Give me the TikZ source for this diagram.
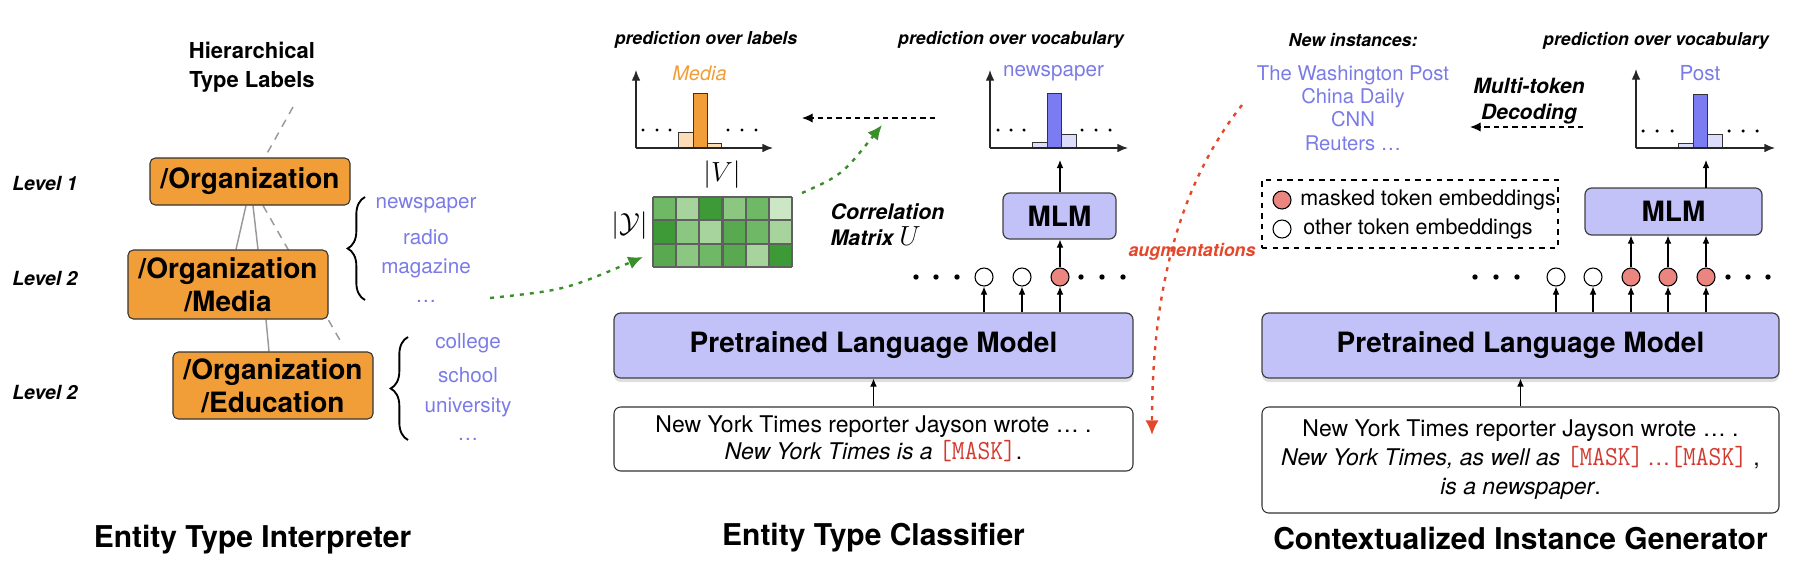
\documentclass[tikz,border=0pt]{standalone}
\usepackage{fontspec}
\setmainfont{TeX Gyre Heros}
\usetikzlibrary{arrows.meta,decorations.pathreplacing,shadows,calc}
\pgfdeclarelayer{bg}
\pgfsetlayers{bg,main}

\definecolor{orgorange}{HTML}{F19E38}
\definecolor{lightorange}{HTML}{FCDDB5}
\definecolor{lmblue}{HTML}{C2C2F8}
\definecolor{wordblue}{HTML}{7B7BE8}
\definecolor{barblue}{HTML}{7C7CF2}
\definecolor{lightblue}{HTML}{DCDCFB}
\definecolor{tokred}{HTML}{EA8580}
\definecolor{augred}{HTML}{E5472B}
\definecolor{maskred}{HTML}{D23A30}
\definecolor{dgreen}{HTML}{3B8F2B}
\definecolor{ga}{HTML}{3E9A36}
\definecolor{gb}{HTML}{58A94F}
\definecolor{gc}{HTML}{6FB866}
\definecolor{gd}{HTML}{8CC782}
\definecolor{ge}{HTML}{A6D49C}
\definecolor{gf}{HTML}{CBE7C3}

\newcommand{\fs}[2]{\fontsize{#1}{#2}\selectfont}
\newcommand{\maskt}{{\color{maskred}\scalebox{1.08}[1.2]{\ttfamily[MASK]}}}

\begin{document}
\begin{tikzpicture}[x=0.75pt,y=-0.75pt,
  orgbox/.style={draw=black!80, fill=orgorange, rounded corners=4pt, line width=0.8pt,
    font=\fs{21}{24.75}\bfseries, align=center, inner sep=0pt},
  lvl/.style={font=\fs{14.6}{17}\bfseries\itshape, anchor=west, inner sep=0pt},
  word/.style={font=\fs{15.5}{18}, text=wordblue, inner sep=0pt},
  ttl/.style={font=\fs{22.5}{26}\bfseries},
  plabel/.style={font=\fs{13.3}{16}\bfseries\itshape},
  lmbox/.style={draw=black!75, fill=lmblue, rounded corners=5pt, line width=0.9pt,
    font=\fs{21}{24}\bfseries},
  shbox/.style={lmbox, drop shadow={opacity=0.25, shadow xshift=0pt, shadow yshift=-3pt}},
  sentbox/.style={draw=black!80, fill=white, rounded corners=5pt, line width=0.8pt,
    align=center, inner sep=0pt},
  tok/.style={circle, draw=black, line width=0.8pt, minimum size=13.5pt, inner sep=0pt, fill=white},
  mtok/.style={tok, fill=tokred},
  arr/.style={-{Latex[length=6pt,width=5pt]}, line width=0.8pt},
  axarr/.style={-{Latex[length=8pt,width=6.5pt]}, line width=1pt, draw=black!85},
  bar/.style={draw=black!80, line width=0.6pt},
  conn/.style={draw=gray!80, line width=1.1pt},
  dconn/.style={conn, dash pattern=on 6pt off 5pt},
  gdot/.style={dgreen, line width=1.8pt, dash pattern=on 3pt off 4.5pt,
    -{Latex[length=11pt,width=10pt]}},
  rdot/.style={augred, line width=1.8pt, dash pattern=on 3pt off 4.5pt,
    -{Latex[length=11pt,width=10pt]}},
  blkdash/.style={line width=0.9pt, dash pattern=on 4pt off 3pt, -{Latex[length=8pt,width=7pt]}},
  brc/.style={decorate, decoration={brace, amplitude=13pt}, line width=1.4pt}
]
\useasboundingbox (0,0) rectangle (1812,586);

% ================= Left panel =================
\node[font=\fs{16.5}{21.75}\bfseries, align=center] (hier) at (252,67.5) {Hierarchical\\Type Labels};
\node[orgbox, minimum width=150pt, minimum height=35.25pt] (org1) at (250,181.5) {/Organization};
\node[orgbox, minimum width=150pt, minimum height=51.75pt] (org2) at (228,284.5) {/Organization\\/Media};
\node[orgbox, minimum width=150pt, minimum height=50.25pt] (org3) at (273,385.5) {/Organization\\/Education};

\node[lvl] (lv1) at (12,183) {Level 1};
\node[lvl] (lv2) at (12,278) {Level 2};
\node[lvl] (lv3) at (12,392) {Level 2};

\coordinate (htop) at (293,107);
\coordinate (dend) at (341,342);
\begin{pgfonlayer}{bg}
  \draw[dconn] (htop) -- ($(org1.north)+(17,-4)$);
  \draw[conn] ($(org1.south)+(-4,0)$) -- ($(org2.north)+(8,0)$);
  \draw[conn] ($(org1.south)+(3,0)$) -- ($(org2.north)+(30,0)$);
  \draw[dconn] ($(org1.south)+(13,0)$) -- (dend);
  \draw[conn] ($(org2.south)+(38,0)$) -- ($(org3.north)+(-4,0)$);
\end{pgfonlayer}

\coordinate (b1a) at (365,300);
\coordinate (b1b) at (365,197);
\coordinate (b2a) at (408,440);
\coordinate (b2b) at (408,337);
\draw[brc] (b1a) -- (b1b);
\draw[brc] (b2a) -- (b2b);

\node[word] (w1) at (426,205) {newspaper};
\node[word] (w2) at (426,237) {radio};
\node[word] (w3) at (426,268) {magazine};
\node[word] (w4) at (426,301) {\ldots};
\node[word] (e1) at (468,343) {college};
\node[word] (e2) at (468,375) {school};
\node[word] (e3) at (468,407) {university};
\node[word] (e4) at (468,439) {\ldots};

\node[ttl] (t1) at (252.5,540) {Entity Type Interpreter};

% ================= Center panel =================
\node[plabel] (pl1) at (706,40) {prediction over labels};
\coordinate (o1) at (636,148);
\draw[bar, fill=lightorange] (678,148) rectangle (693,132);
\draw[bar, fill=orgorange] (693,148) rectangle (707,93);
\draw[bar, fill=lightorange] (707,148) rectangle (721,143);
\draw[axarr] (o1) -- ++(0,-78);
\draw[axarr] (o1) -- ++(137,0);
\foreach \x in {643,657,670,728,742,756} \fill (\x,130) circle (1.3pt);
\node[font=\fs{15}{18}\itshape, text=orgorange] (media) at (699.5,73) {Media};
\node[font=\fs{20}{22}] (vv) at (722,175) {$|V|$};

% correlation matrix
\foreach \c [count=\i from 0] in {gc,ge,ga,gd,gc,gf}
  \fill[\c] (653+\i*23.17,197) rectangle ++(23.17,23.33);
\foreach \c [count=\i from 0] in {ga,gd,ge,gb,gc,ge}
  \fill[\c] (653+\i*23.17,220.33) rectangle ++(23.17,23.33);
\foreach \c [count=\i from 0] in {gb,gd,gc,gb,ge,ga}
  \fill[\c] (653+\i*23.17,243.67) rectangle ++(23.17,23.33);
\foreach \i in {0,...,6} \draw[gray!75!black, line width=1.6pt] (653+\i*23.17,197) -- ++(0,70);
\foreach \j in {0,...,3} \draw[gray!75!black, line width=1.6pt] (653,197+\j*23.33) -- ++(139,0);
\node[font=\fs{20}{22}] (yy) at (629.5,226) {$|\mathcal{Y}|$};
\node[font=\fs{16}{19.5}\bfseries\itshape, anchor=west, align=left] (corr) at (826,225)
  {Correlation\\Matrix {\fs{21}{20}$U$}};

% vocab histogram (center)
\node[plabel] (pl2) at (1011,40) {prediction over vocabulary};
\coordinate (o2) at (990,148);
\draw[bar, fill=lightblue] (1032,148) rectangle (1047,142);
\draw[bar, fill=barblue] (1047,148) rectangle (1061,93);
\draw[bar, fill=lightblue] (1061,148) rectangle (1076,134);
\draw[axarr] (o2) -- ++(0,-78);
\draw[axarr] (o2) -- ++(138,0);
\foreach \x in {998,1011,1024,1082,1096,1110} \fill (\x,130) circle (1.3pt);
\node[font=\fs{15.5}{18}, text=wordblue] (nwsp) at (1053.5,73) {newspaper};

\coordinate (da1) at (935,118);
\coordinate (da2) at (802,118);
\draw[blkdash] (da1) -- (da2);

\node[lmbox, minimum width=84.75pt, minimum height=34.5pt] (mlm1) at (1059.5,216) {MLM};
\draw[arr] (mlm1.north -| 1060,0) -- (1060,160);

\node[shbox, minimum width=389.25pt, minimum height=48.75pt] (plm1) at (873.5,345.5) {Pretrained Language Model};
\node[sentbox, minimum width=389.25pt, minimum height=48pt, font=\fs{17.25}{20.25}] (s1) at (873.5,439)
  {New York Times reporter Jayson wrote … .\\\textit{New York Times is a} \maskt.};
\draw[arr] (s1.north) -- (plm1.south);

\node[tok] (c1) at (984,277) {};
\node[tok] (c2) at (1022,277) {};
\node[mtok] (c3) at (1060,277) {};
\foreach \x in {916,936,957,1081,1102,1123} \fill (\x,277) circle (2pt);
\foreach \n in {c1,c2,c3} \draw[arr] (\n |- plm1.north) -- (\n.south);
\draw[arr] (c3.north) -- (c3 |- mlm1.south);

\node[ttl] (t2) at (873.5,538) {Entity Type Classifier};

% green dotted arrows
\coordinate (g1s) at (490,298);
\coordinate (g1e) at (643,257);
\coordinate (g2s) at (802,193);
\coordinate (g2e) at (882,125);
\draw[gdot] (g1s) .. controls (565,290) .. (g1e);
\draw[gdot] (g2s) .. controls (842,175) .. (g2e);

% ================= Right panel =================
\node[plabel] (ni) at (1353,40) {New instances:};
\node[font=\fs{15.2}{17.6}, text=wordblue, align=center] (inst) at (1353,108)
  {The Washington Post\\China Daily\\CNN\\Reuters …};
\node[font=\fs{15.75}{19.5}\bfseries\itshape, align=center] (mtd) at (1529,101) {Multi-token\\Decoding};
\coordinate (ma1) at (1583,127);
\coordinate (ma2) at (1470,127);
\draw[blkdash] (ma1) -- (ma2);

\node[draw, line width=1.3pt, dash pattern=on 4pt off 4pt, minimum width=222pt, minimum height=51pt] (leg) at (1410,214) {};
\node[mtok] (lg1) at (1282,200) {};
\node[tok] (lg2) at (1282,229) {};
\node[font=\fs{16.1}{18}, anchor=west, inner sep=0pt] (lt1) at (1300,200) {masked token embeddings};
\node[font=\fs{16.1}{18}, anchor=west, inner sep=0pt] (lt2) at (1303,229) {other token embeddings};

\node[plabel] (pl3) at (1656,41) {prediction over vocabulary};
\coordinate (o3) at (1636,148);
\draw[bar, fill=lightblue] (1678,148) rectangle (1693,143);
\draw[bar, fill=barblue] (1693,148) rectangle (1707,94);
\draw[bar, fill=lightblue] (1707,148) rectangle (1722,134);
\draw[axarr] (o3) -- ++(0,-79);
\draw[axarr] (o3) -- ++(139,0);
\foreach \x in {1643,1657,1672,1729,1743,1757} \fill (\x,131) circle (1.3pt);
\node[font=\fs{15.5}{18}, text=wordblue] (post) at (1700,73) {Post};

\node[lmbox, minimum width=132.75pt, minimum height=35.25pt] (mlm2) at (1673.5,211.5) {MLM};
\draw[arr] (1706,188) -- (1706,160);

\node[shbox, minimum width=387.75pt, minimum height=48.75pt] (plm2) at (1520.5,345.5) {Pretrained Language Model};
\node[sentbox, minimum width=387.75pt, minimum height=79.5pt, font=\fs{17.25}{21.75}] (s2) at (1520.5,460)
  {New York Times reporter Jayson wrote … .\\
   \textit{New York Times, as well as} \maskt\,{\color{maskred}…}\maskt\ ,\\
   \textit{is a newspaper}.};
\draw[arr] (s2.north) -- (plm2.south);

\node[tok] (d1) at (1556,277) {};
\node[tok] (d2) at (1593,277) {};
\node[mtok] (d3) at (1631,277) {};
\node[mtok] (d4) at (1668,277) {};
\node[mtok] (d5) at (1706,277) {};
\foreach \x in {1475,1496,1517,1728,1748,1768} \fill (\x,277) circle (2pt);
\foreach \n in {d1,d2,d3,d4,d5} \draw[arr] (\n |- plm2.north) -- (\n.south);
\foreach \n in {d3,d4,d5} \draw[arr] (\n.north) -- (\n |- mlm2.south);

\node[ttl] (t3) at (1520.5,538) {Contextualized Instance Generator};

% red augmentation arrow
\coordinate (as) at (1242,105);
\coordinate (ae) at (1152,435);
\draw[rdot] (as) .. controls (1175,190) and (1152,300) .. (ae);
\node[font=\fs{13.4}{16}\bfseries\itshape, text=augred] (aug) at (1192,252) {augmentations};

\end{tikzpicture}
\end{document}
